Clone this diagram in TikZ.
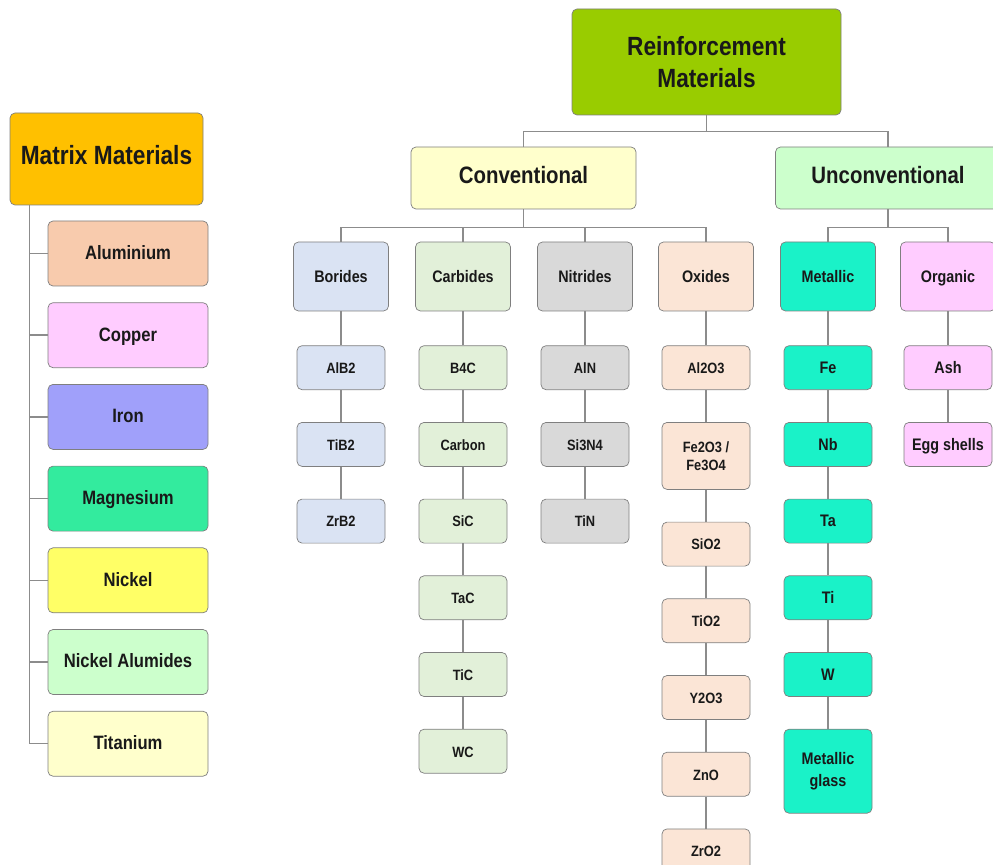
\documentclass[tikz,border=0pt]{standalone}
\usepackage{fontspec}
\setmainfont[FakeStretch=0.86]{Liberation Sans}
\usetikzlibrary{positioning}

\definecolor{boxgray}{HTML}{7F7F7F}
\definecolor{linegray}{HTML}{8C8C8C}
\definecolor{matfill}{HTML}{FFC000}
\definecolor{alufill}{HTML}{F8CBAD}
\definecolor{cufill}{HTML}{FFCCFF}
\definecolor{fefill}{HTML}{A0A0FA}
\definecolor{mgfill}{HTML}{33EB9E}
\definecolor{nifill}{HTML}{FFFF66}
\definecolor{nialfill}{HTML}{CCFFCC}
\definecolor{tifill}{HTML}{FFFFCC}
\definecolor{reinfill}{HTML}{99CC00}
\definecolor{convfill}{HTML}{FFFFCC}
\definecolor{unconvfill}{HTML}{CCFFCC}
\definecolor{borfill}{HTML}{DAE3F3}
\definecolor{carfill}{HTML}{E2F0D9}
\definecolor{nitfill}{HTML}{D9D9D9}
\definecolor{oxifill}{HTML}{FBE5D6}
\definecolor{metfill}{HTML}{1AF2C8}
\definecolor{orgfill}{HTML}{FFCCFF}

\begin{document}
\begin{tikzpicture}[
  node distance=6.4mm,
  box/.style={draw=boxgray, rounded corners=1mm, align=center, text=black!90},
  oneline/.style={text height=1.6ex, text depth=0.35ex},
  topbox/.style={box, font=\bfseries\fontsize{15}{18}\selectfont},
  leftbox/.style={box, oneline, minimum width=3.2cm, minimum height=1.3cm, font=\bfseries\fontsize{11}{13}\selectfont},
  classbox/.style={box, oneline, minimum width=4.5cm, minimum height=1.24cm, font=\bfseries\fontsize{13.5}{16}\selectfont},
  groupbox/.style={box, oneline, minimum width=1.9cm, minimum height=1.38cm, font=\bfseries\fontsize{9.5}{11}\selectfont},
  itembox/.style={box, oneline, minimum width=1.76cm, minimum height=0.88cm, font=\bfseries\fontsize{8.5}{10.5}\selectfont},
  uitem/.style={itembox, font=\bfseries\fontsize{9.5}{12}\selectfont},
  twolines/.style={text height=, text depth=},
  link/.style={draw=linegray, line width=0.8pt}
]
\useasboundingbox (0,0) rectangle (19.86,-17.3);

% matrix side
\node[topbox, oneline, fill=matfill, minimum width=3.86cm, minimum height=1.84cm] (mat) at (2.13,-3.18) {Matrix Materials};
\node[leftbox, fill=alufill] (alu) at (2.56,-5.07) {Aluminium};
\node[leftbox, fill=cufill, below=3.2mm of alu] (cu) {Copper};
\node[leftbox, fill=fefill, below=3.2mm of cu] (fe) {Iron};
\node[leftbox, fill=mgfill, below=3.2mm of fe] (mg) {Magnesium};
\node[leftbox, fill=nifill, below=3.2mm of mg] (ni) {Nickel};
\node[leftbox, fill=nialfill, below=3.2mm of ni] (nial) {Nickel Alumides};
\node[leftbox, fill=tifill, below=3.2mm of nial] (ti) {Titanium};

\draw[link] ([xshift=4mm]mat.south west) |- (alu.west);
\draw[link] ([xshift=4mm]mat.south west) |- (cu.west);
\draw[link] ([xshift=4mm]mat.south west) |- (fe.west);
\draw[link] ([xshift=4mm]mat.south west) |- (mg.west);
\draw[link] ([xshift=4mm]mat.south west) |- (ni.west);
\draw[link] ([xshift=4mm]mat.south west) |- (nial.west);
\draw[link] ([xshift=4mm]mat.south west) |- (ti.west);

% reinforcement side
\node[topbox, fill=reinfill, minimum width=5.38cm, minimum height=2.12cm] (rein) at (14.13,-1.24) {Reinforcement\\Materials};
\node[classbox, fill=convfill] (conv) at (10.47,-3.56) {Conventional};
\node[classbox, fill=unconvfill] (unconv) at (17.76,-3.56) {Unconventional};

\node[groupbox, fill=borfill] (bor) at (6.82,-5.53) {Borides};
\node[groupbox, fill=carfill] (car) at (9.26,-5.53) {Carbides};
\node[groupbox, fill=nitfill] (nit) at (11.70,-5.53) {Nitrides};
\node[groupbox, fill=oxifill] (oxi) at (14.12,-5.53) {Oxides};
\node[groupbox, fill=metfill] (met) at (16.56,-5.53) {Metallic};
\node[groupbox, fill=orgfill] (org) at (18.96,-5.53) {Organic};

\node[itembox, fill=borfill, below=6.8mm of bor] (alb) {AlB2};
\node[itembox, fill=borfill, below=of alb] (tib) {TiB2};
\node[itembox, fill=borfill, below=of tib] (zrb) {ZrB2};

\node[itembox, fill=carfill, below=6.8mm of car] (bc) {B4C};
\node[itembox, fill=carfill, below=of bc] (cbn) {Carbon};
\node[itembox, fill=carfill, below=of cbn] (sic) {SiC};
\node[itembox, fill=carfill, below=of sic] (tac) {TaC};
\node[itembox, fill=carfill, below=of tac] (tic) {TiC};
\node[itembox, fill=carfill, below=of tic] (wc) {WC};

\node[itembox, fill=nitfill, below=6.8mm of nit] (aln) {AlN};
\node[itembox, fill=nitfill, below=of aln] (sin) {Si3N4};
\node[itembox, fill=nitfill, below=of sin] (tin) {TiN};

\node[itembox, fill=oxifill, below=6.8mm of oxi] (alo) {Al2O3};
\node[itembox, twolines, fill=oxifill, minimum height=1.34cm, below=of alo] (feo) {Fe2O3 /\\Fe3O4};
\node[itembox, fill=oxifill, below=of feo] (sio) {SiO2};
\node[itembox, fill=oxifill, below=of sio] (tio) {TiO2};
\node[itembox, fill=oxifill, below=of tio] (yo) {Y2O3};
\node[itembox, fill=oxifill, below=of yo] (zno) {ZnO};
\node[itembox, fill=oxifill, below=of zno] (zro) {ZrO2};

\node[uitem, fill=metfill, below=6.8mm of met] (mfe) {Fe};
\node[uitem, fill=metfill, below=of mfe] (mnb) {Nb};
\node[uitem, fill=metfill, below=of mnb] (mta) {Ta};
\node[uitem, fill=metfill, below=of mta] (mti) {Ti};
\node[uitem, fill=metfill, below=of mti] (mw) {W};
\node[uitem, twolines, fill=metfill, minimum height=1.68cm, below=of mw] (mglass) {Metallic\\glass};

\node[uitem, fill=orgfill, below=6.8mm of org] (ash) {Ash};
\node[uitem, fill=orgfill, below=of ash] (egg) {Egg shells};

\draw[link] (rein.south) -- ++(0,-0.32) -| (conv.north);
\draw[link] (rein.south) -- ++(0,-0.32) -| (unconv.north);
\draw[link] (conv.south) -- ++(0,-0.36) -| (bor.north);
\draw[link] (conv.south) -- ++(0,-0.36) -| (car.north);
\draw[link] (conv.south) -- ++(0,-0.36) -| (nit.north);
\draw[link] (conv.south) -- ++(0,-0.36) -| (oxi.north);
\draw[link] (unconv.south) -- ++(0,-0.36) -| (met.north);
\draw[link] (unconv.south) -- ++(0,-0.36) -| (org.north);

\draw[link] (bor) -- (alb) -- (tib) -- (zrb);
\draw[link] (car) -- (bc) -- (cbn) -- (sic) -- (tac) -- (tic) -- (wc);
\draw[link] (nit) -- (aln) -- (sin) -- (tin);
\draw[link] (oxi) -- (alo) -- (feo) -- (sio) -- (tio) -- (yo) -- (zno) -- (zro);
\draw[link] (met) -- (mfe) -- (mnb) -- (mta) -- (mti) -- (mw) -- (mglass);
\draw[link] (org) -- (ash) -- (egg);
\end{tikzpicture}
\end{document}
